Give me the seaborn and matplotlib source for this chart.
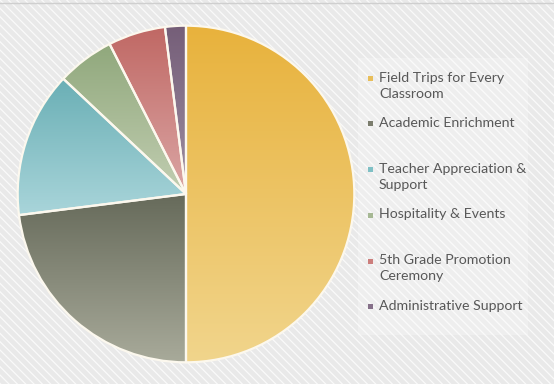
import matplotlib
matplotlib.use("Agg")
import matplotlib.pyplot as plt
import numpy as np
import seaborn as sns
from matplotlib.patches import Rectangle
from matplotlib.colors import to_rgb

# Data
labels = [
    "Field Trips for Every\nClassroom",
    "Academic Enrichment",
    "Teacher Appreciation &\nSupport",
    "Hospitality & Events",
    "5th Grade Promotion\nCeremony",
    "Administrative Support",
]
values = [50, 23, 14, 5.5, 5.5, 2]
# gradient colours (top, bottom) of each slice
top_colors = ["#E8B23C", "#666A5A", "#6AAFB5", "#90A87C", "#C06864", "#755E78"]
bottom_colors = ["#F1D58C", "#A8AA9A", "#A9D5DA", "#C2CEB2", "#DBA6A5", "#9E8EA2"]
legend_colors = ["#E8BE5A", "#7B7D6D", "#7FC0C5", "#A6B894", "#CC7E7C", "#857089"]

sns.set_theme(style="white")
plt.rcParams["font.family"] = ["Lato", "DejaVu Sans"]
plt.rcParams["hatch.linewidth"] = 0.9

fig = plt.figure(figsize=(5.54, 3.84), dpi=100)

# Hatched grey background
bg = Rectangle((0, 0), 1, 1, transform=fig.transFigure, facecolor="#E9E9E9",
               edgecolor="#FAFAFA", hatch="\\\\\\\\", linewidth=0, zorder=-10)
fig.patches.append(bg)
# lighter legend panel
fig.patches.append(Rectangle((358 / 554, 1 - 335 / 384), 170 / 554, 277 / 384,
                             transform=fig.transFigure, facecolor="white",
                             alpha=0.25, linewidth=0, zorder=-9))
# thin top border
fig.add_artist(plt.Line2D([0, 1], [1 - 3 / 384] * 2, transform=fig.transFigure,
                          color="#CFCFCF", lw=1))

ax = fig.add_axes([16 / 554, 20 / 384, 340 / 554, 340 / 384])
ax.patch.set_alpha(0)

wedges, _ = ax.pie(values, startangle=90, counterclock=False, radius=1,
                   wedgeprops=dict(edgecolor="#FCF8EE", linewidth=1.6))

for w, c1, c2 in zip(wedges, top_colors, bottom_colors):
    verts = w.get_path().vertices
    xmin, xmax = verts[:, 0].min(), verts[:, 0].max()
    ymin, ymax = verts[:, 1].min(), verts[:, 1].max()
    t = np.linspace(0, 1, 256)[:, None]
    a, b = np.array(to_rgb(c2)), np.array(to_rgb(c1))
    grad = (a[None, :] * (1 - t) + b[None, :] * t)[:, None, :]
    im = ax.imshow(grad, extent=[xmin, xmax, ymin, ymax], origin="lower",
                   aspect="auto", interpolation="bilinear", zorder=0.5)
    im.set_clip_path(w)
    w.set_facecolor("none")
    w.set_zorder(1)

ax.set_xlim(-1.01, 1.01)
ax.set_ylim(-1.01, 1.01)
ax.set_aspect("equal")
ax.axis("off")

# Legend drawn on the right
first_line_y = [78.3, 123.3, 169.3, 215, 261, 306.7]
for lab, col, yc in zip(labels, legend_colors, first_line_y):
    fig.patches.append(Rectangle((367.5 / 554, 1 - (yc + 2.5) / 384), 5 / 554, 5 / 384,
                                 transform=fig.transFigure, facecolor=col,
                                 linewidth=0))
    fig.text(379 / 554, 1 - (yc - 6.5) / 384, lab, fontsize=10.2, color="#585858",
             ha="left", va="top", linespacing=1.4)

fig.savefig("out.png", dpi=100)
